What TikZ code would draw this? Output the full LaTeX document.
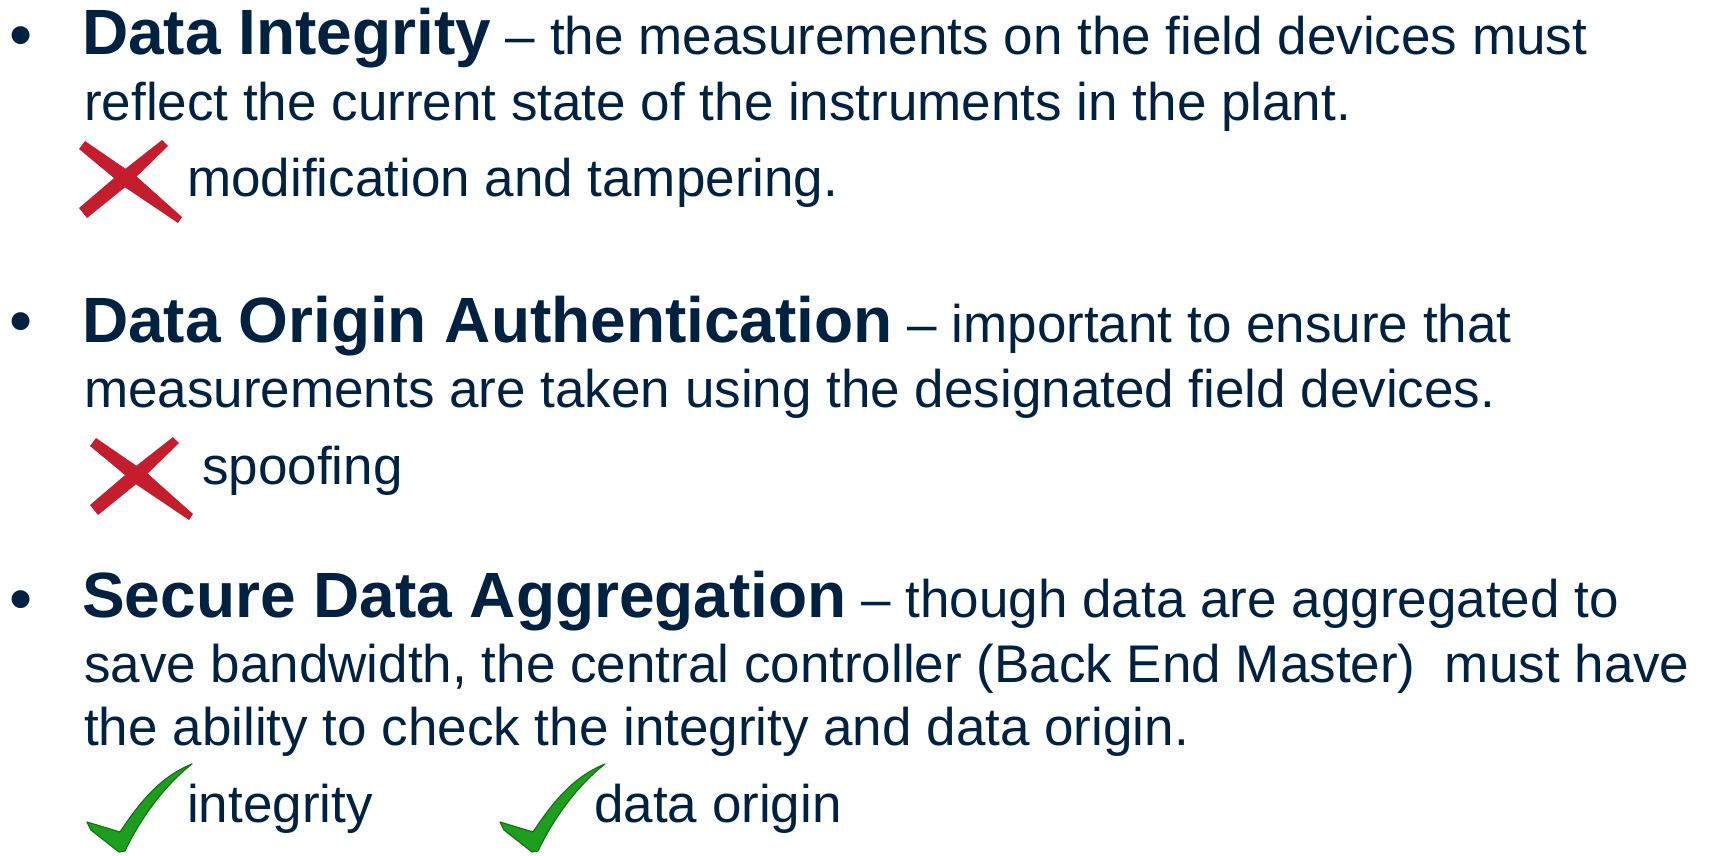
\documentclass[tikz,border=0pt]{standalone}
\usepackage{fontspec}
\setmainfont{Liberation Sans}
\usetikzlibrary{positioning}
\definecolor{navy}{HTML}{002240}
\definecolor{crossred}{HTML}{C41E2E}
\definecolor{tickgreen}{HTML}{1E9E1E}
\definecolor{tickedge}{HTML}{147414}
\newcommand\keyterm[1]{{\fontsize{64}{70}\selectfont\bfseries #1}}
\tikzset{
    textline/.style={anchor=base west,inner sep=0pt,text=navy,font=\fontsize{53}{60}\selectfont},
    bulletpt/.style={anchor=base,inner sep=0pt,text=navy,font=\fontsize{66}{72}\selectfont},
    crossmark/.pic={
        \fill[crossred] (-46,-41) -- (5,-6) -- (51,35) -- (47,41) -- (-5,6) -- (-52,-33) -- cycle;
        \fill[crossred] (31,-42) -- (-11,-9) -- (-52,26) -- (-44,36) -- (-2,2) -- (37,-36) -- cycle;
    },
    tickmark/.pic={
        \fill[tickgreen,draw=tickedge,line width=1.2pt,line join=round]
            (-33,-30) -- (0,-20) .. controls (20,-50) and (40,-75) .. (72,-88)
            .. controls (46,-68) and (21,-35) .. (5,-1) -- (-1,0) -- (-29,-22) -- cycle;
    }
}

\begin{document}
\begin{tikzpicture}[x=1pt,y=-1pt]

                \useasboundingbox (0,0) rectangle (1710,856);

                \node[bulletpt] (bullet 1) at (21,58)   {•};
                \node[textline] (line 1 1) at (82,55)   {\keyterm{Data Integrity} – the measurements on the field devices must};
                \node[textline] (line 1 2) at (84,121)  {reflect the current state of the instruments in the plant.};
                \pic at (131,182) {crossmark};
                \node[textline] (line 1 3) at (187,196) {modification and tampering.};

                \node[bulletpt] (bullet 2) at (21,343)  {•};
                \node[textline] (line 2 1) at (82,342)  {\keyterm{Data Origin Authentication} – important to ensure that};
                \node[textline] (line 2 2) at (84,407)  {measurements are taken using the designated field devices.};
                \pic at (142,479) {crossmark};
                \node[textline] (line 2 3) at (202,484) {spoofing};

                \node[bulletpt] (bullet 3) at (21,621)  {•};
                \node[textline] (line 3 1) at (82,617)  {\keyterm{Secure Data Aggregation} – though data are aggregated to};
                \node[textline] (line 3 2) at (84,682)  {save bandwidth, the central controller (Back End Master)~ must have};
                \node[textline] (line 3 3) at (84,745)  {the ability to check the integrity and data origin.};
                \pic at (120,852) {tickmark};
                \node[textline] (line 3 4) at (187,822) {integrity};
                \pic at (533,852) {tickmark};
                \node[textline] (line 3 5) at (594,822) {data origin};

            \end{tikzpicture}
\end{document}
